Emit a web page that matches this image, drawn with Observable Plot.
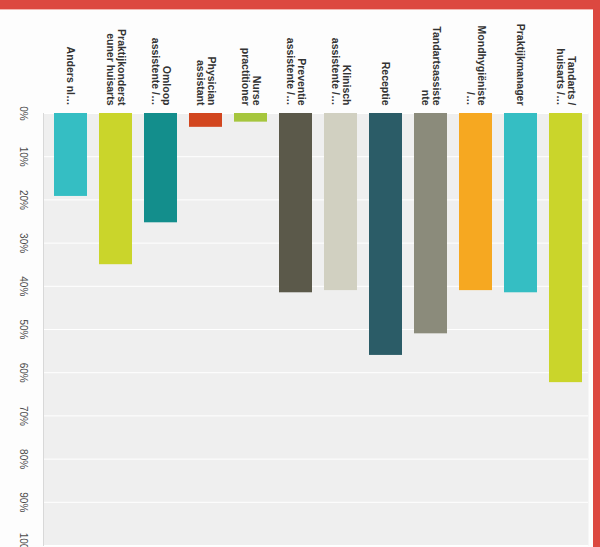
<!DOCTYPE html>
<html>
<head>
<meta charset="utf-8">
<script src="https://cdn.jsdelivr.net/npm/d3@7"></script>
<script src="https://cdn.jsdelivr.net/npm/@observablehq/plot@0.6"></script>
<style>
  html, body { margin: 0; padding: 0; background: #ffffff; }
  #wrap { position: relative; width: 600px; height: 547px; overflow: hidden; background: #fdfdfd; }
  #wrap svg { position: absolute; left: 0; top: 0; }
  .bandTop { position: absolute; left: 0; top: 0; width: 600px; height: 9px; background: #dc4840; border-bottom: 1px solid #f3b5b0; }
  .bandRight { position: absolute; right: 0; top: 0; width: 7px; height: 547px; background: #dc4840; }
</style>
</head>
<body>
<div id="wrap"></div>
<script>
// Categories (label lines as shown on the chart)
const categories = [
  "Anders nl…",
  "Praktijkonderst\neuner huisarts",
  "Omloop\nassistente /…",
  "Physician\nassistant",
  "Nurse\npractitioner",
  "Preventie\nassistente /…",
  "Klinisch\nassistente /…",
  "Receptie",
  "Tandartsassiste\nnte",
  "Mondhygiëniste\n/…",
  "Praktijkmanager",
  "Tandarts /\nhuisarts /…"
];
// Share of respondents (%)
const values = [19.2, 35, 25.3, 3.2, 2, 41.5, 41, 56, 51, 41, 41.5, 62.3];
const colors = ["#35bec3", "#cad52b", "#138e8c", "#d2461f", "#a6c63d", "#5b594a",
                "#d1d0c1", "#2b5c67", "#8b8b7b", "#f6a821", "#35bec3", "#cad52b"];
const ticks = [0, 10, 20, 30, 40, 50, 60, 70, 80, 90, 100];
const tickLabels = ticks.map(t => t + "%");

const data = categories.map((c, i) => ({category: c, value: values[i], color: colors[i]}));

const chart = Plot.plot({
  width: 600,
  height: 547,
  marginLeft: 43,
  marginRight: 12,
  marginTop: 113,
  marginBottom: 2,
  style: {background: "transparent", fontFamily: "'Liberation Sans', Arial, sans-serif"},
  x: {domain: categories, range: [50, 585], paddingInner: 0.276, paddingOuter: 0, axis: null},
  y: {domain: [0, 100], reverse: true, axis: null},
  marks: [
    Plot.frame({fill: "#efefef"}),
    Plot.gridY(ticks, {stroke: "#ffffff", strokeOpacity: 1, strokeWidth: 1}),
    Plot.frame({anchor: "left", stroke: "#d8d8d8"}),
    Plot.barY(data, {x: "category", y: "value", fill: "color"}),
    Plot.text(data, {
      x: "category",
      text: "category",
      frameAnchor: "top",
      dy: -8,
      rotate: 90,
      textAnchor: "end",
      lineAnchor: "middle",
      lineHeight: 1.05,
      fontSize: 10.5,
      fontWeight: "bold",
      fill: "#333333"
    }),
    Plot.text(ticks, {
      y: d => d,
      text: (d, i) => tickLabels[i],
      frameAnchor: "left",
      dx: -20,
      rotate: 90,
      textAnchor: "middle",
      lineAnchor: "middle",
      fontSize: 10,
      fill: "#4a4a4a"
    })
  ]
});

const wrap = document.getElementById("wrap");
wrap.appendChild(chart);
const t = document.createElement("div"); t.className = "bandTop"; wrap.appendChild(t);
const r = document.createElement("div"); r.className = "bandRight"; wrap.appendChild(r);
</script>
</body>
</html>
